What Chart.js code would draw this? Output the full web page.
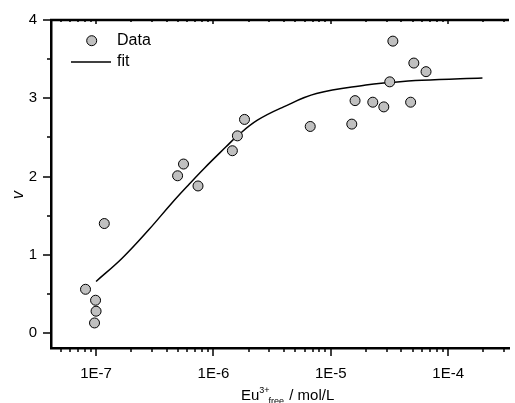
<!DOCTYPE html>
<html>
<head>
<meta charset="utf-8">
<script src="https://cdn.jsdelivr.net/npm/chart.js@4.4.1/dist/chart.umd.min.js"></script>
<style>
    html, body { margin: 0; padding: 0; background: #fff; overflow: hidden; }
    #wrap { width: 515px; height: 403px; }
</style>
</head>
<body>
<div id="wrap"><canvas id="chart" width="515" height="403"></canvas></div>
<script>
// --- Data ---
// measured points: free Eu3+ concentration (mol/L) and v
const dataX = [8.13e-8, 9.9e-8, 1.0e-7, 9.7e-8, 1.175e-7, 4.95e-7, 5.56e-7, 7.39e-7, 1.45e-6, 1.60e-6, 1.84e-6,
               6.68e-6, 1.51e-5, 1.61e-5, 2.28e-5, 2.83e-5, 3.18e-5, 3.38e-5, 5.10e-5, 6.48e-5, 4.79e-5];
const dataY = [0.56, 0.42, 0.28, 0.13, 1.40, 2.01, 2.16, 1.88, 2.33, 2.52, 2.73,
               2.64, 2.67, 2.97, 2.95, 2.89, 3.21, 3.73, 3.45, 3.34, 2.95];
// fit curve, sampled along the drawn line
const fitX = [1e-7, 1.675e-7, 2.81e-7, 4.41e-7, 6.10e-7, 8.41e-7, 1.28e-6, 1.60e-6, 2.37e-6, 3.96e-6,
              7.55e-6, 1.99e-5, 3.13e-5, 5.97e-5, 1.96e-4];
const fitY = [0.66, 0.96, 1.32, 1.66, 1.89, 2.11, 2.38, 2.52, 2.72, 2.89,
              3.06, 3.17, 3.20, 3.23, 3.26];
const xTicks = [1e-7, 1e-6, 1e-5, 1e-4];
const yTicks = [0, 1, 2, 3, 4];
const xMin = 4.13e-8, xMax = 3.3e-4;
const yMin = -0.19, yMax = 4;

const FONT = "'Liberation Sans', Arial, sans-serif";
const POINT_FILL = '#c0c0c0';

function line(ctx, x1, y1, x2, y2) {
    ctx.beginPath();
    ctx.moveTo(x1, y1);
    ctx.lineTo(x2, y2);
    ctx.stroke();
}

// ticks, top frame, legend and axis titles
const decorPlugin = {
    id: 'decor',
    afterDraw(chart) {
        const { ctx, chartArea: a, scales: { x, y } } = chart;
        ctx.save();
        ctx.strokeStyle = '#000';

        // x ticks: bottom outward, top inward (small)
        ctx.lineWidth = 1.5;
        for (let e = -8; e <= -3; e++) {
            for (let m = 1; m <= 9; m++) {
                const v = m * Math.pow(10, e);
                if (v < xMin || v > xMax) continue;
                const px = Math.round(x.getPixelForValue(v));
                line(ctx, px, a.bottom, px, a.bottom + (m === 1 ? 8 : 4));
                line(ctx, px, a.top, px, a.top + (m === 1 ? 4 : 2));
            }
        }
        // y ticks: outward to the left
        for (let v = 0; v <= 4; v += 0.5) {
            const py = Math.round(y.getPixelForValue(v));
            line(ctx, a.left, py, a.left - (v % 1 === 0 ? 8 : 4), py);
        }

        // top frame
        ctx.lineWidth = 2.5;
        line(ctx, a.left - 1, a.top, a.right, a.top);

        // legend
        ctx.lineWidth = 1;
        ctx.fillStyle = POINT_FILL;
        ctx.beginPath();
        ctx.arc(91.7, 40.7, 5, 0, Math.PI * 2);
        ctx.fill();
        ctx.stroke();
        ctx.lineWidth = 1.5;
        line(ctx, 71, 62, 111, 62);
        ctx.fillStyle = '#000';
        ctx.font = '16px ' + FONT;
        ctx.textAlign = 'left';
        ctx.textBaseline = 'middle';
        ctx.fillText('Data', 117, 41);
        ctx.fillText('fit', 117, 62);

        // y title
        ctx.save();
        ctx.translate(19, 195);
        ctx.rotate(-Math.PI / 2);
        ctx.textAlign = 'center';
        ctx.font = 'italic 16px ' + FONT;
        ctx.fillText('v', 0, 0);
        ctx.restore();

        // x title with super/subscript
        ctx.textBaseline = 'alphabetic';
        let tx = 241;
        const base = 400;
        ctx.font = '15px ' + FONT;
        ctx.fillText('Eu', tx, base);
        tx += ctx.measureText('Eu').width;
        ctx.font = '9px ' + FONT;
        ctx.fillText('3+', tx, base - 7);
        const supW = ctx.measureText('3+').width;
        ctx.fillText('free', tx + supW - 1, base + 4);
        tx += supW - 1 + ctx.measureText('free').width + 1;
        ctx.font = '15px ' + FONT;
        ctx.fillText(' / mol/L', tx, base);

        ctx.restore();
    }
};

new Chart(document.getElementById('chart'), {
    type: 'scatter',
    data: {
        datasets: [
            {
                label: 'Data',
                data: dataX.map((v, i) => ({ x: v, y: dataY[i] })),
                pointRadius: 5,
                pointBackgroundColor: POINT_FILL,
                pointBorderColor: '#000',
                pointBorderWidth: 1,
                showLine: false,
                order: 0
            },
            {
                label: 'fit',
                data: fitX.map((v, i) => ({ x: v, y: fitY[i] })),
                showLine: true,
                borderColor: '#000',
                borderWidth: 1.5,
                pointRadius: 0,
                tension: 0.4,
                order: 1
            }
        ]
    },
    options: {
        responsive: false,
        animation: false,
        events: [],
        layout: { padding: { top: 20, right: 0, bottom: 0, left: 0 } },
        plugins: { legend: { display: false }, tooltip: { enabled: false } },
        scales: {
            x: {
                type: 'logarithmic',
                min: xMin,
                max: xMax,
                afterBuildTicks: s => { s.ticks = xTicks.map(v => ({ value: v })); },
                afterFit: s => { s.height = 55; },
                grid: { display: false },
                border: { display: true, color: '#000', width: 2.5 },
                ticks: {
                    color: '#000',
                    font: { family: FONT, size: 15 },
                    padding: 9,
                    maxRotation: 0,
                    callback: v => '1E' + Math.round(Math.log10(v))
                }
            },
            y: {
                type: 'linear',
                min: yMin,
                max: yMax,
                afterBuildTicks: s => { s.ticks = yTicks.map(v => ({ value: v })); },
                afterFit: s => { s.width = 51; },
                grid: { display: false },
                border: { display: true, color: '#000', width: 2.5 },
                ticks: {
                    color: '#000',
                    font: { family: FONT, size: 15 },
                    padding: 6
                }
            }
        }
    },
    plugins: [decorPlugin]
});
</script>
</body>
</html>
